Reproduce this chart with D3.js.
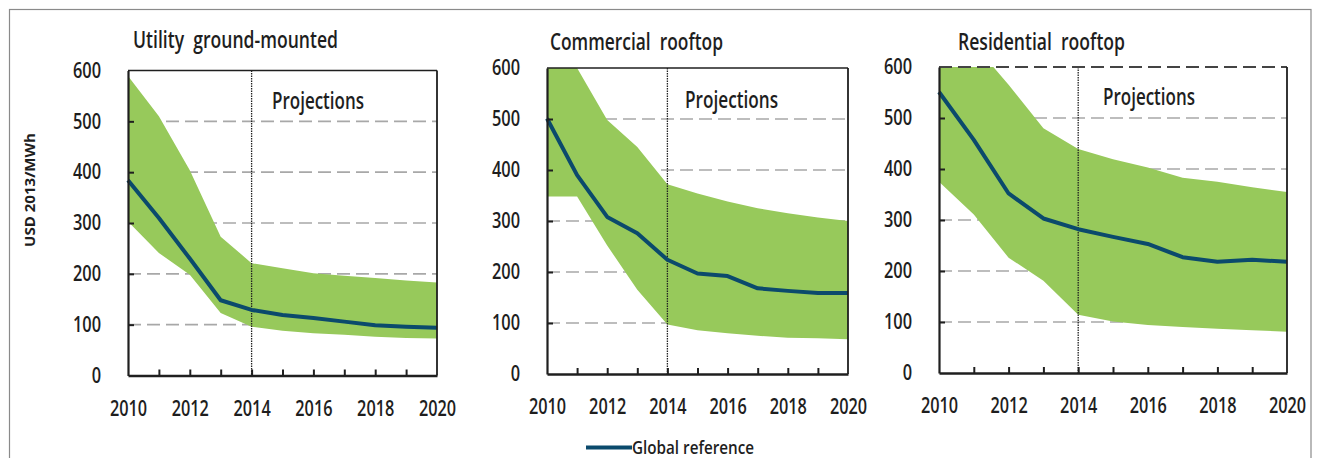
<!DOCTYPE html>
<html>
<head>
<meta charset="utf-8">
<script src="https://cdn.jsdelivr.net/npm/d3@7"></script>
<style>
  html, body { margin: 0; padding: 0; background: #fff; }
  svg { display: block; }
  text { font-family: "Open Sans", "DejaVu Sans", sans-serif; fill: #1e1e1e; }
</style>
</head>
<body>
<svg id="chart" width="1317" height="458"></svg>
<script>
// Solar PV levelised cost, USD 2013/MWh, by segment
const years = [2010, 2011, 2012, 2013, 2014, 2015, 2016, 2017, 2018, 2019, 2020];
const xTickLabels = [2010, 2012, 2014, 2016, 2018, 2020];
const yTicks = [0, 100, 200, 300, 400, 500, 600];
const gridValues = [100, 200, 300, 400, 500];
const projectionStart = 2014;

const segmentNames = ["Utility  ground-mounted", "Commercial  rooftop", "Residential  rooftop"];

// Global reference line
const utilityRef     = [384, 310, 230, 148, 129, 119, 113, 106, 99, 96, 94];
const commercialRef  = [501, 390, 308, 276, 224, 197, 192, 168, 163, 159, 159];
const residentialRef = [551, 457, 352, 303, 282, 267, 253, 227, 218, 222, 218];

// Range of estimates (upper / lower edges of the shaded band)
const utilityHigh     = [589, 510, 404, 273, 221, 211, 201, 196, 192, 187, 183];
const utilityLow      = [303, 241, 198, 123, 96, 88, 83, 80, 76, 74, 73];
const commercialHigh  = [600, 600, 498, 445, 372, 354, 338, 325, 315, 307, 300];
const commercialLow   = [348, 348, 252, 165, 97, 86, 80, 75, 71, 70, 68];
const residentialHigh = [700, 645, 565, 480, 439, 419, 403, 383, 375, 364, 355];
const residentialLow  = [375, 311, 226, 181, 114, 101, 94, 90, 87, 84, 81];

const panels = [
  { title: segmentNames[0], ref: utilityRef, high: utilityHigh, low: utilityLow,
    box: { l: 128, r: 437, t: 70.5, b: 375.5 },
    titlePos: { x: 133, y: 48, w: 205 }, projPos: { x: 272, y: 109, w: 92 }, dashedTop: false },
  { title: segmentNames[1], ref: commercialRef, high: commercialHigh, low: commercialLow,
    box: { l: 547, r: 848, t: 68, b: 374 },
    titlePos: { x: 550, y: 50, w: 173 }, projPos: { x: 685, y: 108, w: 93 }, dashedTop: false },
  { title: segmentNames[2], ref: residentialRef, high: residentialHigh, low: residentialLow,
    box: { l: 939, r: 1287, t: 67, b: 373 },
    titlePos: { x: 958, y: 50, w: 167 }, projPos: { x: 1103, y: 105, w: 92 }, dashedTop: true }
];

const bandColor = "#97c95b";
const lineColor = "#0b4a6c";
const axisColor = "#1f1f1f";

const svg = d3.select("#chart");

// outer frame
svg.append("rect")
  .attr("x", 9.5).attr("y", 9.5)
  .attr("width", 1301.5).attr("height", 470)
  .attr("fill", "none").attr("stroke", "#8a8a8a").attr("stroke-width", 1.2);

panels.forEach((p, i) => {
  const { l, r, t, b } = p.box;
  const x = d3.scaleLinear().domain([2010, 2020]).range([l, r]);
  const y = d3.scaleLinear().domain([0, 600]).range([b, t]);

  const g = svg.append("g");
  const clipId = "clip" + i;
  svg.append("defs").append("clipPath").attr("id", clipId)
    .append("rect").attr("x", l).attr("y", t).attr("width", r - l).attr("height", b - t);

  // dashed gridlines
  g.append("g").selectAll("line").data(gridValues).join("line")
    .attr("x1", l).attr("x2", r)
    .attr("y1", d => y(d)).attr("y2", d => y(d))
    .attr("stroke", "#a8a8a8").attr("stroke-width", 1.6)
    .attr("stroke-dasharray", "13,6");

  // range band
  const area = d3.area()
    .x((d, k) => x(years[k]))
    .y0((d, k) => y(p.low[k]))
    .y1((d, k) => y(p.high[k]));
  g.append("path").datum(years)
    .attr("clip-path", `url(#${clipId})`)
    .attr("d", area)
    .attr("fill", bandColor);

  // start of projections
  g.append("line")
    .attr("x1", x(projectionStart)).attr("x2", x(projectionStart))
    .attr("y1", t).attr("y2", b)
    .attr("stroke", "#222").attr("stroke-width", 1.3)
    .attr("stroke-dasharray", "1.5,1");

  // global reference
  const line = d3.line().x((d, k) => x(years[k])).y(d => y(d));
  g.append("path").datum(p.ref)
    .attr("d", line)
    .attr("fill", "none")
    .attr("stroke", lineColor).attr("stroke-width", 4)
    .attr("stroke-linejoin", "round");

  // top and right frame
  g.append("line")
    .attr("x1", l).attr("x2", r).attr("y1", t).attr("y2", t)
    .attr("stroke", p.dashedTop ? "#444" : axisColor)
    .attr("stroke-width", p.dashedTop ? 2 : 1.5)
    .attr("stroke-dasharray", p.dashedTop ? "13,6" : null);
  g.append("line")
    .attr("x1", r).attr("x2", r).attr("y1", t).attr("y2", b)
    .attr("stroke", axisColor).attr("stroke-width", 1.8);

  // y axis
  const yAxis = g.append("g")
    .attr("transform", `translate(${l},0)`)
    .call(d3.axisLeft(y).tickValues(yTicks).tickSize(-6).tickSizeOuter(0).tickPadding(27));
  yAxis.select(".domain").attr("stroke", axisColor).attr("stroke-width", 2.2);
  yAxis.selectAll(".tick line").attr("stroke", axisColor).attr("stroke-width", 2);
  yAxis.selectAll(".tick text")
    .attr("x", -27 / 0.78)
    .attr("transform", "scale(0.78,1)")
    .style("font-size", "21px").style("font-weight", 600)
    .style("font-family", '"Open Sans", sans-serif').attr("fill", "#1e1e1e");
  yAxis.selectAll(".tick").filter(d => d === 600 || d === 0).select("line").remove();

  // x axis
  const xAxis = g.append("g")
    .attr("transform", `translate(0,${b})`)
    .call(d3.axisBottom(x).tickValues(years).tickSize(-6).tickSizeOuter(0)
      .tickFormat(d => xTickLabels.includes(d) ? String(d) : ""));
  xAxis.select(".domain").attr("stroke", axisColor).attr("stroke-width", 2.4);
  xAxis.selectAll(".tick line").attr("stroke", axisColor).attr("stroke-width", 2);
  xAxis.selectAll(".tick").filter(d => d === 2010 || d === 2020).select("line").remove();
  xAxis.selectAll(".tick text")
    .attr("y", 40.5).attr("dy", 0)
    .attr("transform", "scale(0.74,1)")
    .style("font-size", "22px").style("font-weight", 600)
    .style("font-family", '"Open Sans", sans-serif').attr("fill", "#1e1e1e");

  // panel title
  g.append("text")
    .attr("x", p.titlePos.x).attr("y", p.titlePos.y)
    .attr("textLength", p.titlePos.w).attr("lengthAdjust", "spacingAndGlyphs")
    .style("font-size", "23px").style("font-weight", 600)
    .attr("xml:space", "preserve")
    .text(p.title);

  // projections label
  g.append("text")
    .attr("x", p.projPos.x).attr("y", p.projPos.y)
    .attr("textLength", p.projPos.w).attr("lengthAdjust", "spacingAndGlyphs")
    .style("font-size", "23px").style("font-weight", 600)
    .text("Projections");
});

// y axis title
svg.append("text")
  .attr("transform", "translate(35,190) rotate(-90)")
  .attr("text-anchor", "middle")
  .attr("textLength", 114).attr("lengthAdjust", "spacingAndGlyphs")
  .style("font-size", "14px").style("font-weight", 700)
  .attr("fill", "#333")
  .text("USD 2013/MWh");

// legend
const legend = svg.append("g");
legend.append("line")
  .attr("x1", 586).attr("x2", 632).attr("y1", 447.5).attr("y2", 447.5)
  .attr("stroke", lineColor).attr("stroke-width", 4);
legend.append("text")
  .attr("x", 632).attr("y", 454)
  .attr("textLength", 122).attr("lengthAdjust", "spacingAndGlyphs")
  .style("font-size", "18px").style("font-weight", 600)
  .text("Global reference");
</script>
</body>
</html>
